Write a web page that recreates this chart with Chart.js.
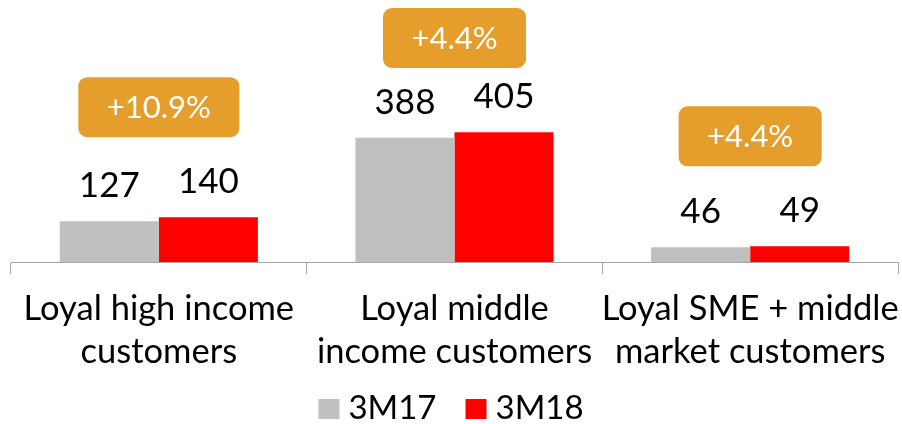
<!DOCTYPE html>
<html lang="en">
<head>
    <meta charset="UTF-8">
    <title>Loyal customers</title>
    <script src="https://cdn.jsdelivr.net/npm/chart.js"></script>
    <style>
        html, body { margin: 0; padding: 0; background: #fff; }
        #wrap { width: 902px; height: 424px; }
    </style>
</head>
<body>
    <div id="wrap"><canvas id="chart"></canvas></div>

    <script>
        // data
        const categories = [
            ['Loyal high income', 'customers'],
            ['Loyal middle', 'income customers'],
            ['Loyal SME + middle', 'market customers']
        ];
        const series3M17 = [127, 388, 46];
        const series3M18 = [140, 405, 49];
        const growthLabels = ['+10.9%', '+4.4%', '+4.4%'];

        const FONT = 'Lato';

        // value labels over each bar
        const valueLabels = {
            id: 'valueLabels',
            afterDatasetsDraw(chart) {
                const ctx = chart.ctx;
                ctx.save();
                ctx.font = '35px ' + FONT;
                ctx.fillStyle = '#000';
                ctx.textAlign = 'center';
                ctx.textBaseline = 'alphabetic';
                chart.data.datasets.forEach((ds, i) => {
                    chart.getDatasetMeta(i).data.forEach((bar, j) => {
                        ctx.fillText(ds.data[j], bar.x, bar.y - 24);
                    });
                });
                ctx.restore();
            }
        };

        // orange growth badges above each group
        const growthBoxes = {
            id: 'growthBoxes',
            afterDatasetsDraw(chart) {
                const ctx = chart.ctx;
                const m0 = chart.getDatasetMeta(0).data;
                const m1 = chart.getDatasetMeta(1).data;
                ctx.save();
                ctx.font = '31px ' + FONT;
                growthLabels.forEach((txt, j) => {
                    const cx = (m0[j].x + m1[j].x) / 2;
                    const topBar = Math.min(m0[j].y, m1[j].y);
                    const h = 60;
                    const w = ctx.measureText(txt).width + 57;
                    const y = Math.max(8, topBar - 80 - h);
                    ctx.fillStyle = '#E59E2C';
                    ctx.beginPath();
                    ctx.roundRect(cx - w / 2, y, w, h, 9);
                    ctx.fill();
                    ctx.fillStyle = '#fff';
                    ctx.textAlign = 'center';
                    ctx.textBaseline = 'middle';
                    ctx.fillText(txt, cx, y + h / 2 + 1);
                });
                ctx.restore();
            }
        };

        // legend under the axis labels
        const bottomLegend = {
            id: 'bottomLegend',
            afterDraw(chart) {
                const ctx = chart.ctx;
                const sets = chart.data.datasets;
                const box = 21, gap = 9, between = 29;
                ctx.save();
                ctx.font = '33px ' + FONT;
                const widths = sets.map(ds => box + gap + ctx.measureText(ds.label).width);
                const total = widths.reduce((a, b) => a + b, 0) + between * (sets.length - 1);
                let x = chart.width / 2 - total / 2;
                const yBox = 399;
                sets.forEach((ds, i) => {
                    ctx.fillStyle = ds.backgroundColor;
                    ctx.fillRect(x, yBox, box, 20);
                    ctx.fillStyle = '#000';
                    ctx.textAlign = 'left';
                    ctx.textBaseline = 'alphabetic';
                    ctx.fillText(ds.label, x + box + gap, 419);
                    x += widths[i] + between;
                });
                ctx.restore();
            }
        };

        new Chart(document.getElementById('chart'), {
            type: 'bar',
            data: {
                labels: categories,
                datasets: [{
                    label: '3M17',
                    data: series3M17,
                    backgroundColor: '#BFBFBF'
                }, {
                    label: '3M18',
                    data: series3M18,
                    backgroundColor: '#FF0000'
                }]
            },
            options: {
                responsive: true,
                maintainAspectRatio: false,
                animation: false,
                categoryPercentage: 0.67,
                barPercentage: 1,
                layout: {
                    padding: { left: 11, right: 4, top: 0, bottom: 50.5 }
                },
                plugins: {
                    legend: { display: false },
                    tooltip: { enabled: false }
                },
                scales: {
                    y: {
                        display: false,
                        min: 0,
                        max: 818
                    },
                    x: {
                        afterFit(scale) {
                            scale.height = 111.5;
                            scale.paddingLeft = 0;
                            scale.paddingRight = 0;
                        },
                        grid: {
                            offset: true,
                            drawOnChartArea: false,
                            drawTicks: true,
                            tickLength: 12,
                            color: '#A6A6A6'
                        },
                        border: { display: true, color: '#A6A6A6' },
                        ticks: {
                            color: '#000',
                            padding: 13.5,
                            autoSkip: false,
                            font: { family: FONT, size: 34.5, lineHeight: 43 / 34.5 },
                            maxRotation: 0
                        }
                    }
                }
            },
            plugins: [valueLabels, growthBoxes, bottomLegend]
        });
    </script>
</body>
</html>
